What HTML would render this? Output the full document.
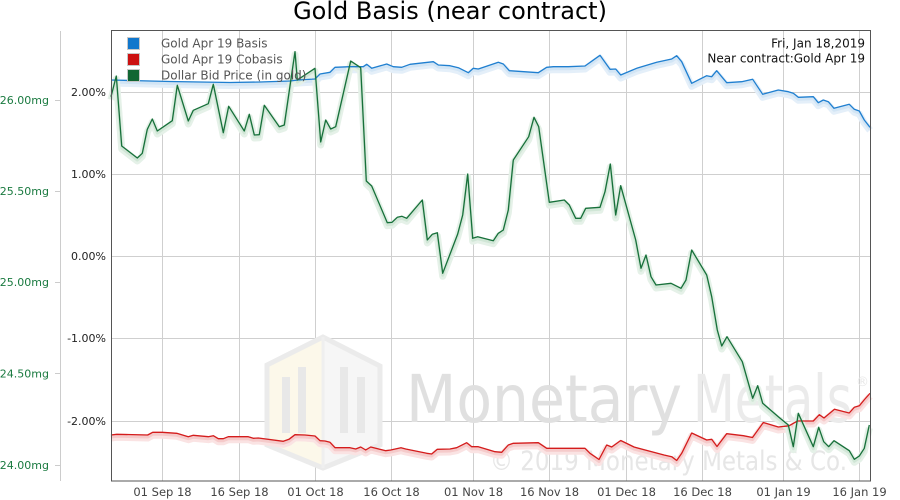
<!DOCTYPE html>
<html><head><meta charset="utf-8"><style>
html,body{margin:0;padding:0;background:#fff;}
svg{display:block;}
text{font-family:"DejaVu Sans","Liberation Sans",sans-serif;}
</style></head><body>
<svg width="900" height="500" viewBox="0 0 900 500" xmlns="http://www.w3.org/2000/svg">
<defs>
<polyline id="pb" points="111,80 130,80.5 150,81 170,81.5 200,82 230,82.5 260,82 290,81 298.3,80 315,79 320,74 330,72.3 335,67.3 350,66.7 363.3,66.7 366.7,64.3 371.7,68.3 386.7,64 393.3,66.7 401.7,67.3 410,64.3 433.3,61.7 438.3,65 450,65.7 458.3,67.7 468.3,72.7 473.3,68.3 478.3,69 498.3,62.3 503.3,64 509.3,70.7 538.3,72.7 546.7,67.3 553.3,66.7 568.3,66.7 585,66 600,55.3 610,69.3 615.7,69 620.7,75 636.7,68.3 656.7,62.3 671.7,59 676.7,55.7 681.7,61.7 691.7,83.3 706.7,75.7 711.7,76.7 716.7,70.7 726.7,82.7 741.7,81.7 752.7,79.3 762.7,94.3 778.3,90 788.3,91.7 793.3,93.3 798.3,97.3 813.3,96.7 818.3,102.7 823.3,100 828.3,101.7 834,108.3 849.3,104.3 854.3,109.3 859.3,111 864.3,120 870,127.3"/>
<polyline id="pr" points="111,435 116.7,434.3 147.7,435 152.7,432.3 162.3,432.3 176.7,433.3 188.3,436.7 193.3,435.3 208.3,436.7 213.3,435.7 218.3,438.7 223.3,438.7 228.3,436.7 248.3,436.7 253.3,438.3 258.3,438 283.3,441.3 289,439.3 295,434.7 305,435 315,436 320,440.7 325,441 330,442.3 335,447.7 350,447.7 355.7,449 360.7,447 365.7,450 370.7,447 385.7,450.7 390.7,450 401,447.7 405.7,449 426.7,453.3 431.7,454 437.3,449.3 450,449 456.7,447.7 466.7,442.7 471.7,446.7 478.3,446.7 495,451.7 501.7,452.3 508.3,445 513.3,443.3 538.3,442.7 546.7,448.3 578.3,448.3 585,448.3 590,453.3 599,459.5 606.7,445 611.7,447 620.7,440.5 634,447 664,455 671.7,456.7 676.7,460.5 681.7,453.3 691.7,433 706.7,440 711.7,439.3 717,446.5 726.7,433.7 743.3,435.7 752.5,437.5 763.3,422.5 778.3,427 789,425.8 797.5,421 813.3,421 819.3,414.7 824,418 834.5,409.2 849.2,413 854.3,407.3 859.3,405.8 864.5,399.5 870,393.3"/>
<polyline id="pg" points="111,96.7 116.3,76 121.7,146 137.3,158 142.3,153.3 147.3,129.3 152.3,119 157.3,131 172.3,120.7 177.3,85.3 188.3,121 193.3,110.3 208.3,103.7 213.3,84.3 223.3,132.7 228.7,106.3 244.3,131 249.3,114.3 254.3,135 259.3,134.7 264.3,105.3 279.3,126.7 284.3,125 295,51.7 297.3,80 315,68.3 320.7,142 325.7,120 330.7,129 335.7,126.7 350.7,61 360.7,67.7 366.3,181 371.7,186 387.3,222.7 392,222.3 397.3,217.3 402,216.3 406.7,218.3 422.3,200 427.3,240 432.3,234.3 437.3,232.7 442.7,273.3 457.7,234 462.7,215 467.7,174 472.7,238.3 477.7,236.7 493.3,240.7 498.3,233.3 503.3,230 508.3,210 513.3,160 528.7,136.7 534,117.3 538.7,126.7 549.3,202.3 564.3,200 569.3,205 575.7,218.3 580.7,218.3 585.7,208.3 600,207.3 605,191.7 610.3,164 615.7,215 620.7,185.7 635.7,240 641,268.3 646,255 651,276.7 656,285 671,283.3 681,288.3 686,280 691.7,250 706.7,275 711.7,296.7 717.3,330 721.7,346 727,336.7 742.3,361.7 752.7,398.3 757.7,385.7 762.7,403.3 778.3,416.7 788.3,425 793.3,446.7 798.3,413.3 813.3,446.7 818.7,427.3 823.7,441.7 828.7,446.7 834,440.7 849.3,450.7 854.3,459.3 859.3,456 864.3,448.3 869.3,425"/>
</defs>
<rect width="900" height="500" fill="#fff"/>
<text x="450" y="19" font-size="24" text-anchor="middle" fill="#000">Gold Basis (near contract)</text>

<!-- gridlines -->
<g stroke="#cfcfcf" stroke-width="1">
<line x1="111" y1="92.5" x2="870" y2="92.5"/>
<line x1="111" y1="174.5" x2="870" y2="174.5"/>
<line x1="111" y1="256.5" x2="870" y2="256.5"/>
<line x1="111" y1="338.5" x2="870" y2="338.5"/>
<line x1="111" y1="421.5" x2="870" y2="421.5"/>
<line x1="162.5" y1="30" x2="162.5" y2="481"/>
<line x1="239.5" y1="30" x2="239.5" y2="481"/>
<line x1="315.5" y1="30" x2="315.5" y2="481"/>
<line x1="391.5" y1="30" x2="391.5" y2="481"/>
<line x1="473.5" y1="30" x2="473.5" y2="481"/>
<line x1="549.5" y1="30" x2="549.5" y2="481"/>
<line x1="626.5" y1="30" x2="626.5" y2="481"/>
<line x1="702.5" y1="30" x2="702.5" y2="481"/>
<line x1="783.5" y1="30" x2="783.5" y2="481"/>
<line x1="859.5" y1="30" x2="859.5" y2="481"/>
</g>

<!-- watermark -->
<g>
<polygon points="323,337 267,365 267,445 323,468 323,337" fill="#fcf8ea"/>
<polygon points="323,337 380,366 380,445 323,468 323,337" fill="#f6f6f6"/>
<polygon points="323,337 267,365 267,445 323,468 380,445 380,366 Z" fill="none" stroke="#ebebeb" stroke-width="5"/>
<line x1="323" y1="337" x2="323" y2="468" stroke="#efefef" stroke-width="3"/>
<g fill="#e8e8e8">
<rect x="282" y="377" width="8" height="56"/>
<rect x="298" y="367" width="8" height="66"/>
<rect x="340" y="367" width="8" height="66"/>
<rect x="357" y="377" width="8" height="56"/>
</g>
<text x="406" y="422" font-family="Liberation Sans, sans-serif" font-size="66" fill="#e0e0e0" textLength="276" lengthAdjust="spacingAndGlyphs">Monetary</text>
<text x="693" y="422" font-family="Liberation Sans, sans-serif" font-size="66" fill="#ebebeb" textLength="159" lengthAdjust="spacingAndGlyphs">Metals</text>
<text x="856" y="386" font-family="Liberation Sans, sans-serif" font-size="13" fill="#e8e8e8">®</text>
<text x="490" y="470" font-family="Liberation Sans, sans-serif" font-size="27" fill="#e6e6e6" textLength="357" lengthAdjust="spacingAndGlyphs">© 2019 Monetary Metals &amp; Co.</text>
</g>

<!-- series glows -->
<g fill="none" stroke-linejoin="round">
<use href="#pb" stroke="#e4eff9" stroke-width="7" transform="translate(0,3)"/>
<use href="#pb" stroke="#d2e5f5" stroke-width="3" transform="translate(0,2)"/>
<use href="#pr" stroke="#fae3e3" stroke-width="7" transform="translate(0,3)"/>
<use href="#pr" stroke="#f5caca" stroke-width="3" transform="translate(0,2)"/>
<use href="#pg" stroke="#e5f1e8" stroke-width="7" transform="translate(0,3)"/>
<use href="#pg" stroke="#d0e6d6" stroke-width="3" transform="translate(0,2)"/>
</g>

<!-- series lines -->
<g fill="none" stroke-linejoin="round" stroke-width="1.3">
<use href="#pb" stroke="#1f7fd0"/>
<use href="#pr" stroke="#d41c1c"/>
<use href="#pg" stroke="#17703a"/>
</g>

<!-- plot frame -->
<rect x="111.5" y="30.5" width="759" height="450.5" fill="none" stroke="#555" stroke-width="1"/>

<!-- legend -->
<g>
<rect x="127.5" y="37.5" width="12" height="12" fill="#1177cc" stroke="#c8c8c8" stroke-width="1"/>
<rect x="127.5" y="53.5" width="12" height="12" fill="#cc1111" stroke="#c8c8c8" stroke-width="1"/>
<rect x="127.5" y="69.5" width="12" height="12" fill="#116633" stroke="#c8c8c8" stroke-width="1"/>
<g font-size="12" fill="#555">
<text x="161" y="47.5">Gold Apr 19 Basis</text>
<text x="161" y="63.5">Gold Apr 19 Cobasis</text>
<text x="161" y="79.5">Dollar Bid Price (in gold)</text>
</g>
</g>

<!-- info text -->
<g font-size="12" fill="#111" text-anchor="end">
<text x="865" y="47.5">Fri, Jan 18,2019</text>
<text x="865" y="62.5">Near contract:Gold Apr 19</text>
</g>

<!-- left % axis -->
<g font-size="11" fill="#222" text-anchor="end">
<text x="106" y="96">2.00%</text>
<text x="106" y="178">1.00%</text>
<text x="106" y="260">0.00%</text>
<text x="106" y="342">-1.00%</text>
<text x="106" y="425">-2.00%</text>
</g>

<!-- secondary mg axis -->
<line x1="60.5" y1="31" x2="60.5" y2="481" stroke="#cccccc" stroke-width="1"/>
<g stroke="#cccccc" stroke-width="1">
<line x1="55" y1="100.5" x2="60" y2="100.5"/>
<line x1="55" y1="191.5" x2="60" y2="191.5"/>
<line x1="55" y1="282.5" x2="60" y2="282.5"/>
<line x1="55" y1="373.5" x2="60" y2="373.5"/>
<line x1="55" y1="465.5" x2="60" y2="465.5"/>
</g>
<g font-size="11" fill="#1a7a40" text-anchor="end">
<text x="49" y="104">26.00mg</text>
<text x="49" y="195">25.50mg</text>
<text x="49" y="286">25.00mg</text>
<text x="49" y="377.5">24.50mg</text>
<text x="49" y="469">24.00mg</text>
</g>

<!-- x axis labels -->
<g font-size="11.5" fill="#444" text-anchor="middle">
<text x="162.5" y="496">01 Sep 18</text>
<text x="239.5" y="496">16 Sep 18</text>
<text x="315.5" y="496">01 Oct 18</text>
<text x="391.5" y="496">16 Oct 18</text>
<text x="473.5" y="496">01 Nov 18</text>
<text x="549.5" y="496">16 Nov 18</text>
<text x="626.5" y="496">01 Dec 18</text>
<text x="702.5" y="496">16 Dec 18</text>
<text x="783.5" y="496">01 Jan 19</text>
<text x="859.5" y="496">16 Jan 19</text>
</g>
</svg>
</body></html>
